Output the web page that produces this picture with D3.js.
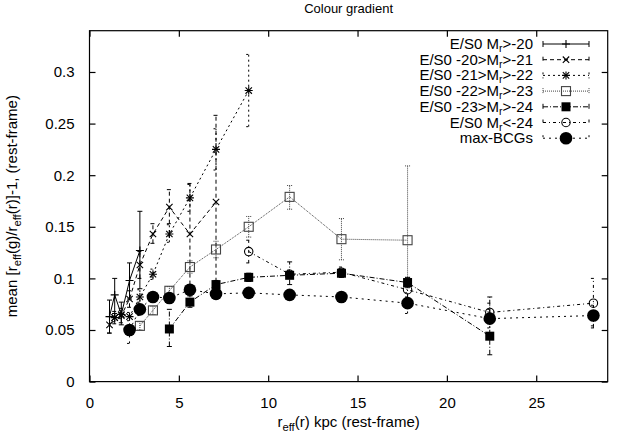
<!DOCTYPE html>
<html>
<head>
<meta charset="utf-8">
<script src="https://cdn.jsdelivr.net/npm/d3@7"></script>
<style>
body{margin:0;background:#fff;}
text{font-family:"Liberation Sans",Arial,sans-serif;fill:#000;}
</style>
</head>
<body>
<div id="chart"></div>
<script>
// x positions of the bins (kpc)
var s1X=[1.12,1.41,1.78,2.24,2.82];
var s1Y=[0.063,0.084,0.065,0.098,0.127];
var s1Lo=[0.047,0.066,0.055,0.080,0.090];
var s1Hi=[0.079,0.100,0.077,0.115,0.165];

var s2X=[1.12,1.41,1.78,2.24,2.82,3.55,4.47,5.62,7.08];
var s2Y=[0.055,0.062,0.064,0.080,0.113,0.143,0.169,0.143,0.174];
var s2Lo=[0.047,0.056,0.057,0.072,0.100,0.134,0.153,0.094,0.090];
var s2Hi=[0.063,0.068,0.071,0.088,0.126,0.153,0.186,0.192,0.258];

var s3X=[1.41,1.78,2.24,2.82,3.55,4.47,5.62,7.08,8.91];
var s3Y=[0.062,0.065,0.063,0.082,0.104,0.143,0.178,0.225,0.282];
var s3Lo=[0.058,0.061,0.059,0.077,0.099,0.135,0.165,0.205,0.247];
var s3Hi=[0.066,0.069,0.067,0.089,0.109,0.152,0.191,0.245,0.317];

var s4X=[2.82,3.55,4.47,5.62,7.08,8.91,11.2,14.1,17.8];
var s4Y=[0.054,0.069,0.088,0.111,0.128,0.150,0.179,0.138,0.137];
var s4Lo=[0.050,0.065,0.084,0.105,0.120,0.140,0.167,0.118,0.101];
var s4Hi=[0.058,0.073,0.092,0.117,0.136,0.160,0.190,0.158,0.209];

var s5X=[4.47,5.62,7.08,8.91,11.2,14.1,17.8,22.4];
var s5Y=[0.051,0.077,0.094,0.101,0.103,0.105,0.096,0.044];
var s5Lo=[0.034,0.072,0.090,0.097,0.094,0.101,0.091,0.026];
var s5Hi=[0.070,0.083,0.098,0.105,0.116,0.109,0.101,0.082];

var s6X=[8.91,11.2,14.1,17.8,22.4,28.2];
var s6Y=[0.126,0.104,0.106,0.089,0.067,0.076];
var s6Lo=[0.115,0.100,0.101,0.082,0.058,0.052];
var s6Hi=[0.137,0.108,0.111,0.096,0.076,0.100];

var s7X=[2.24,2.82,3.55,4.47,5.62,7.08,8.91,11.2,14.1,17.8,22.4,28.2];
var s7Y=[0.050,0.070,0.082,0.081,0.089,0.085,0.086,0.084,0.082,0.076,0.061,0.064];
var s7Lo=[0.037,0.064,0.078,0.078,0.085,0.082,0.083,0.081,0.079,0.066,0.052,0.054];
var s7Hi=[0.063,0.076,0.086,0.084,0.093,0.088,0.089,0.087,0.085,0.086,0.070,0.074];

var legendPre=["E/S0 M","E/S0 -20>M","E/S0 -21>M","E/S0 -22>M","E/S0 -23>M","E/S0 M",""];
var legendPost=[">-20",">-21",">-22",">-23",">-24","<-24","max-BCGs"];
var xTicks=[0,5,10,15,20,25];
var yTicks=[0,0.05,0.1,0.15,0.2,0.25,0.3];

var W=617,H=439;
var pl=89.5,pr=607.7,pt=30.7,pb=381.6;
var x=d3.scaleLinear().domain([0,29]).range([pl,pr]);
var y=d3.scaleLinear().domain([0,0.34]).range([pb,pt]);
var FS=15;

var series=[
    {x:s1X,y:s1Y,lo:s1Lo,hi:s1Hi,dash:null,mark:"plus",col:"#000"},
    {x:s2X,y:s2Y,lo:s2Lo,hi:s2Hi,dash:"4,3",mark:"cross",col:"#000"},
    {x:s3X,y:s3Y,lo:s3Lo,hi:s3Hi,dash:"2,3",mark:"star",col:"#000"},
    {x:s4X,y:s4Y,lo:s4Lo,hi:s4Hi,dash:"1,1",mark:"box",col:"#444"},
    {x:s5X,y:s5Y,lo:s5Lo,hi:s5Hi,dash:"5,2,1,2",mark:"fbox",col:"#000"},
    {x:s6X,y:s6Y,lo:s6Lo,hi:s6Hi,dash:"3,3,1,3",mark:"circle",col:"#000"},
    {x:s7X,y:s7Y,lo:s7Lo,hi:s7Hi,dash:"2,4",mark:"fcircle",col:"#000"}
];

var svg=d3.select("#chart").append("svg").attr("width",W).attr("height",H);

function addMarker(g,type,cx,cy,col){
    if(type=="plus"||type=="star"){
        g.append("path").attr("d","M"+(cx-4)+","+cy+"H"+(cx+4)+"M"+cx+","+(cy-4)+"V"+(cy+4))
            .attr("stroke",col).attr("stroke-width",1.1).attr("fill","none");
    }
    if(type=="cross"||type=="star"){
        g.append("path").attr("d","M"+(cx-3.2)+","+(cy-3.2)+"L"+(cx+3.2)+","+(cy+3.2)+"M"+(cx-3.2)+","+(cy+3.2)+"L"+(cx+3.2)+","+(cy-3.2))
            .attr("stroke",col).attr("stroke-width",1.1).attr("fill","none");
    }
    if(type=="box"){
        g.append("rect").attr("x",cx-4.5).attr("y",cy-4.5).attr("width",9).attr("height",9)
            .attr("stroke",col).attr("stroke-width",1.1).attr("fill","none");
    }
    if(type=="fbox"){
        g.append("rect").attr("x",cx-4.5).attr("y",cy-4.5).attr("width",9).attr("height",9).attr("fill","#000");
    }
    if(type=="circle"){
        g.append("circle").attr("cx",cx).attr("cy",cy).attr("r",4.2)
            .attr("stroke",col).attr("stroke-width",1.1).attr("fill","none");
    }
    if(type=="fcircle"){
        g.append("circle").attr("cx",cx).attr("cy",cy).attr("r",6.3).attr("fill","#000");
    }
}

// frame and ticks
svg.append("rect").attr("x",pl).attr("y",pt).attr("width",pr-pl).attr("height",pb-pt)
    .attr("fill","none").attr("stroke","#000").attr("stroke-width",1.2);

var gx=svg.append("g").attr("transform","translate(0,"+pb+")")
    .call(d3.axisBottom(x).tickValues(xTicks).tickSizeInner(-6).tickSizeOuter(0).tickPadding(16));
var gxt=svg.append("g").attr("transform","translate(0,"+pt+")")
    .call(d3.axisTop(x).tickValues(xTicks).tickSizeInner(-6).tickSizeOuter(0).tickFormat(""));
var gy=svg.append("g").attr("transform","translate("+pl+",0)")
    .call(d3.axisLeft(y).tickValues(yTicks).tickSizeInner(-6).tickSizeOuter(0).tickPadding(15).tickFormat(d3.format("~g")));
var gyr=svg.append("g").attr("transform","translate("+pr+",0)")
    .call(d3.axisRight(y).tickValues(yTicks).tickSizeInner(-6).tickSizeOuter(0).tickFormat(""));
[gx,gxt,gy,gyr].forEach(function(g){
    g.select(".domain").remove();
    g.selectAll("line").attr("stroke","#000").attr("stroke-width",1.2);
    g.selectAll("text").attr("font-size",FS).attr("font-family","Liberation Sans, Arial, sans-serif").attr("fill","#000");
});

// series
series.forEach(function(s){
    var g=svg.append("g");
    var pts=s.x.map(function(d,i){return [x(d),y(s.y[i])]});
    g.append("path").attr("d",d3.line()(pts)).attr("fill","none")
        .attr("stroke",s.col).attr("stroke-width",1).attr("stroke-dasharray",s.dash);
    s.x.map(function(d,i){
        var px=x(d),y0=y(s.lo[i]),y1=y(s.hi[i]);
        g.append("path").attr("d","M"+px+","+y0+"V"+y1+"M"+(px-2.5)+","+y0+"H"+(px+2.5)+"M"+(px-2.5)+","+y1+"H"+(px+2.5))
            .attr("fill","none").attr("stroke",s.col).attr("stroke-width",1).attr("stroke-dasharray",s.dash);
    });
    pts.forEach(function(p){addMarker(g,s.mark,p[0],p[1],s.col)});
});

// legend
var lg=svg.append("g");
series.forEach(function(s,i){
    var ly=44+i*15.7;
    var t=lg.append("text").attr("x",533).attr("y",ly+5).attr("text-anchor","end").attr("font-size",FS);
    if(legendPre[i]){
        t.append("tspan").text(legendPre[i]);
        t.append("tspan").attr("font-size",FS*0.7).attr("dy",3).text("r");
        t.append("tspan").attr("dy",-3).text(legendPost[i]);
    } else {
        t.text(legendPost[i]);
    }
    lg.append("path").attr("d","M543,"+ly+"H589M543,"+(ly-3)+"V"+(ly+3)+"M589,"+(ly-3)+"V"+(ly+3))
        .attr("fill","none").attr("stroke",s.col).attr("stroke-width",1).attr("stroke-dasharray",s.dash);
    addMarker(lg,s.mark,566,ly,s.col);
});

// title and axis labels
svg.append("text").attr("x",(pl+pr)/2).attr("y",13).attr("text-anchor","middle").attr("font-size",FS-2).text("Colour gradient");

var xl=svg.append("text").attr("x",(pl+pr)/2).attr("y",427).attr("text-anchor","middle").attr("font-size",FS);
xl.append("tspan").text("r");
xl.append("tspan").attr("font-size",FS*0.75).attr("dy",4).text("eff");
xl.append("tspan").attr("dy",-4).text("(r) kpc (rest-frame)");

var yl=svg.append("text").attr("transform","translate(17,"+((pt+pb)/2)+") rotate(-90)").attr("text-anchor","middle").attr("font-size",FS);
yl.append("tspan").text("mean [r");
yl.append("tspan").attr("font-size",FS*0.75).attr("dy",4).text("eff");
yl.append("tspan").attr("dy",-4).text("(g)/r");
yl.append("tspan").attr("font-size",FS*0.75).attr("dy",4).text("eff");
yl.append("tspan").attr("dy",-4).text("(r)]-1, (rest-frame)");
</script>
</body>
</html>
